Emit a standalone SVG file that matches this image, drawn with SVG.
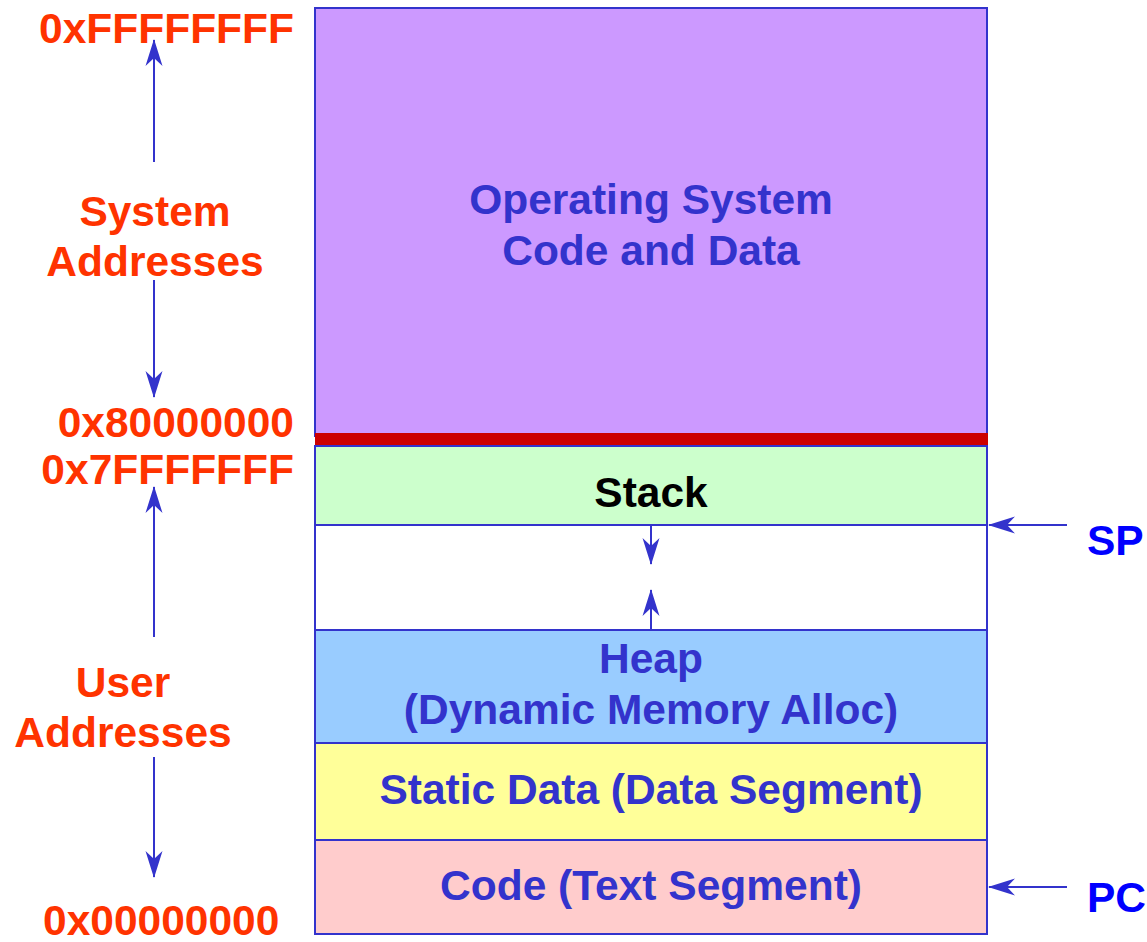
<svg xmlns="http://www.w3.org/2000/svg" width="1147" height="942" viewBox="0 0 1147 942">
  <style>
    .seg { stroke: #3333CC; stroke-width: 2; }
    .lbl { font-family: "Liberation Sans", Arial, sans-serif; font-weight: bold; font-size: 42.5px; }
    .addr { fill: #FF3300; }
    .inner { fill: #3333CC; text-anchor: middle; }
    .reg { fill: #0000FF; }
    .conn { stroke: #3333CC; stroke-width: 2; fill: none; marker-end: url(#arrow); }
  </style>
  <defs>
    <marker id="arrow" markerUnits="userSpaceOnUse" viewBox="-28 -10 30 20" refX="0" refY="0" markerWidth="30" markerHeight="20" orient="auto">
      <path d="M1,0 L-26,-8.5 L-18,0 L-26,8.5 Z" fill="#3333CC"/>
    </marker>
  </defs>

  <rect width="1147" height="942" fill="#FFFFFF"/>

  <!-- memory segments -->
  <g id="os">
    <rect class="seg" x="315" y="8" width="672" height="428" fill="#CC99FF"/>
    <text class="lbl inner" x="651" y="214">Operating System</text>
    <text class="lbl inner" x="651" y="265">Code and Data</text>
  </g>
  <g id="boundary">
    <rect x="315" y="433" width="673" height="13" fill="#CC0000"/>
  </g>
  <g id="stack">
    <rect class="seg" x="315" y="446" width="672" height="79" fill="#CCFFCC"/>
    <text class="lbl" x="651" y="507" text-anchor="middle" fill="#000000">Stack</text>
  </g>
  <g id="free">
    <rect class="seg" x="315" y="525" width="672" height="105" fill="#FFFFFF"/>
  </g>
  <g id="heap">
    <rect class="seg" x="315" y="630" width="672" height="113" fill="#99CCFF"/>
    <text class="lbl inner" x="651" y="673">Heap</text>
    <text class="lbl inner" x="651" y="724">(Dynamic Memory Alloc)</text>
  </g>
  <g id="static">
    <rect class="seg" x="315" y="743" width="672" height="97" fill="#FFFF99"/>
    <text class="lbl inner" x="651" y="804">Static Data (Data Segment)</text>
  </g>
  <g id="code">
    <rect class="seg" x="315" y="840" width="672" height="94" fill="#FFCCCC"/>
    <text class="lbl inner" x="651" y="900">Code (Text Segment)</text>
  </g>

  <!-- address labels -->
  <g id="addr-top"><text class="lbl addr" x="294" y="43" text-anchor="end">0xFFFFFFFF</text></g>
  <g id="system-addresses">
    <text class="lbl addr" x="155" y="226" text-anchor="middle">System</text>
    <text class="lbl addr" x="155" y="276" text-anchor="middle">Addresses</text>
  </g>
  <g id="addr-80"><text class="lbl addr" x="294" y="437" text-anchor="end">0x80000000</text></g>
  <g id="addr-7f"><text class="lbl addr" x="294" y="484" text-anchor="end">0x7FFFFFFF</text></g>
  <g id="user-addresses">
    <text class="lbl addr" x="123" y="697" text-anchor="middle">User</text>
    <text class="lbl addr" x="123" y="747" text-anchor="middle">Addresses</text>
  </g>
  <g id="addr-zero"><text class="lbl addr" x="43" y="935">0x00000000</text></g>

  <!-- registers -->
  <g id="sp"><text class="lbl reg" x="1087" y="555">SP</text></g>
  <g id="pc"><text class="lbl reg" x="1087" y="912">PC</text></g>

  <!-- connectors -->
  <g id="connectors">
    <line class="conn" x1="154" y1="162" x2="154" y2="40"/>
    <line class="conn" x1="154" y1="280" x2="154" y2="397"/>
    <line class="conn" x1="154" y1="637" x2="154" y2="487"/>
    <line class="conn" x1="154" y1="757" x2="154" y2="877"/>
    <line class="conn" x1="651" y1="525" x2="651" y2="564"/>
    <line class="conn" x1="651" y1="630" x2="651" y2="590"/>
    <line class="conn" x1="1067" y1="525" x2="989" y2="525"/>
    <line class="conn" x1="1067" y1="887" x2="989" y2="887"/>
  </g>
</svg>
